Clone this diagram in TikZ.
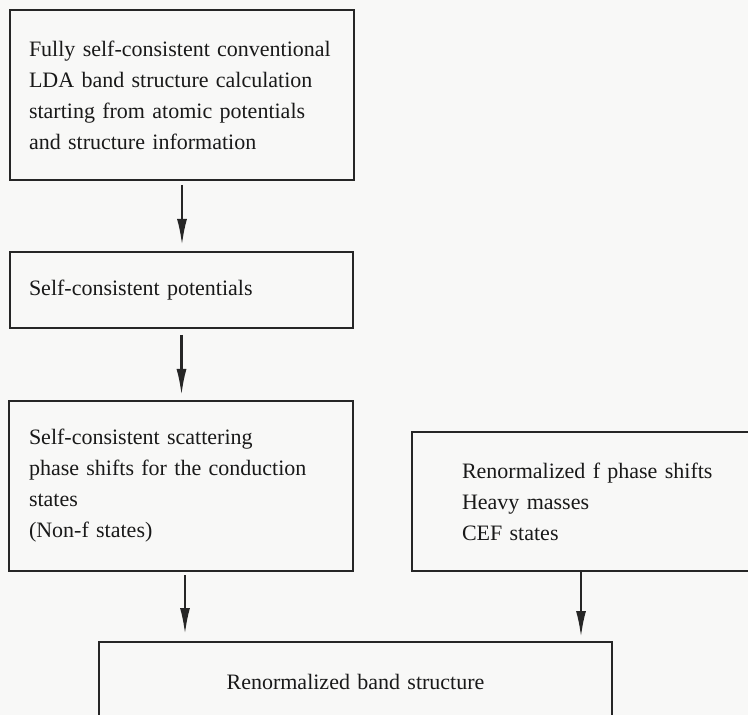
\documentclass[tikz,border=0pt]{standalone}
\usepackage{fontspec}
\setmainfont{Liberation Serif}
\usetikzlibrary{arrows.meta, calc}
\definecolor{cInk}{HTML}{262626}
\definecolor{cPaper}{HTML}{F8F8F7}

\begin{document}
\begin{tikzpicture}[
    x=0.5pt, y=-0.5pt, font=\fontsize{11}{15.5}\selectfont,
    box/.style={draw=cInk, line width=1pt, anchor=north west, text=black!90,
                inner ysep=0pt, align=left},
    arr/.style={-{Latex[length=13pt, width=5pt]}, line width=1.1pt, cInk},
]

% ===================== Hoja =====================
\fill[cPaper] (0,0) rectangle (748,715);
\useasboundingbox (0,0) rectangle (748,715);
\clip (0,0) rectangle (748,715);

% ===================== Cajas =====================
\node[box, inner xsep=9.5pt, text width=153pt, minimum height=85pt] (lda) at (9,9)
      {Fully self-consistent conventional\\LDA band structure calculation\\
       starting from atomic potentials\\and structure information};

\node[box, inner xsep=9.5pt, text width=152.5pt, minimum height=38pt] (pot) at (9,251)
      {Self-consistent potentials};

\node[box, inner xsep=10pt, text width=152pt, minimum height=85pt] (scat) at (8,400)
      {Self-consistent scattering\\phase shifts for the conduction\\states\\(Non-f states)};

\node[box, inner xsep=25pt, text width=150pt, minimum height=69.5pt] (fphase) at (411,431)
      {Renormalized f phase shifts\\Heavy masses\\CEF states};

\node[box, align=center, inner xsep=0pt, text width=256.5pt, minimum height=40pt] (band) at (98,641)
      {Renormalized band structure};

% ===================== Flechas =====================
\draw[arr, shorten <=2pt, shorten >=3pt] (lda.south) -- (lda.south |- pot.north);
\draw[arr, shorten <=3pt, shorten >=2.5pt] (pot.south) -- (pot.south |- scat.north);
\draw[arr, shorten <=1.5pt, shorten >=3.5pt] ([xshift=2pt]scat.south) -- ([xshift=2pt]scat.south |- band.north);
\draw[arr, shorten <=0pt, shorten >=2pt] ([xshift=85pt]fphase.south west) -- ([xshift=85pt]fphase.south west |- band.north);

\end{tikzpicture}
\end{document}
